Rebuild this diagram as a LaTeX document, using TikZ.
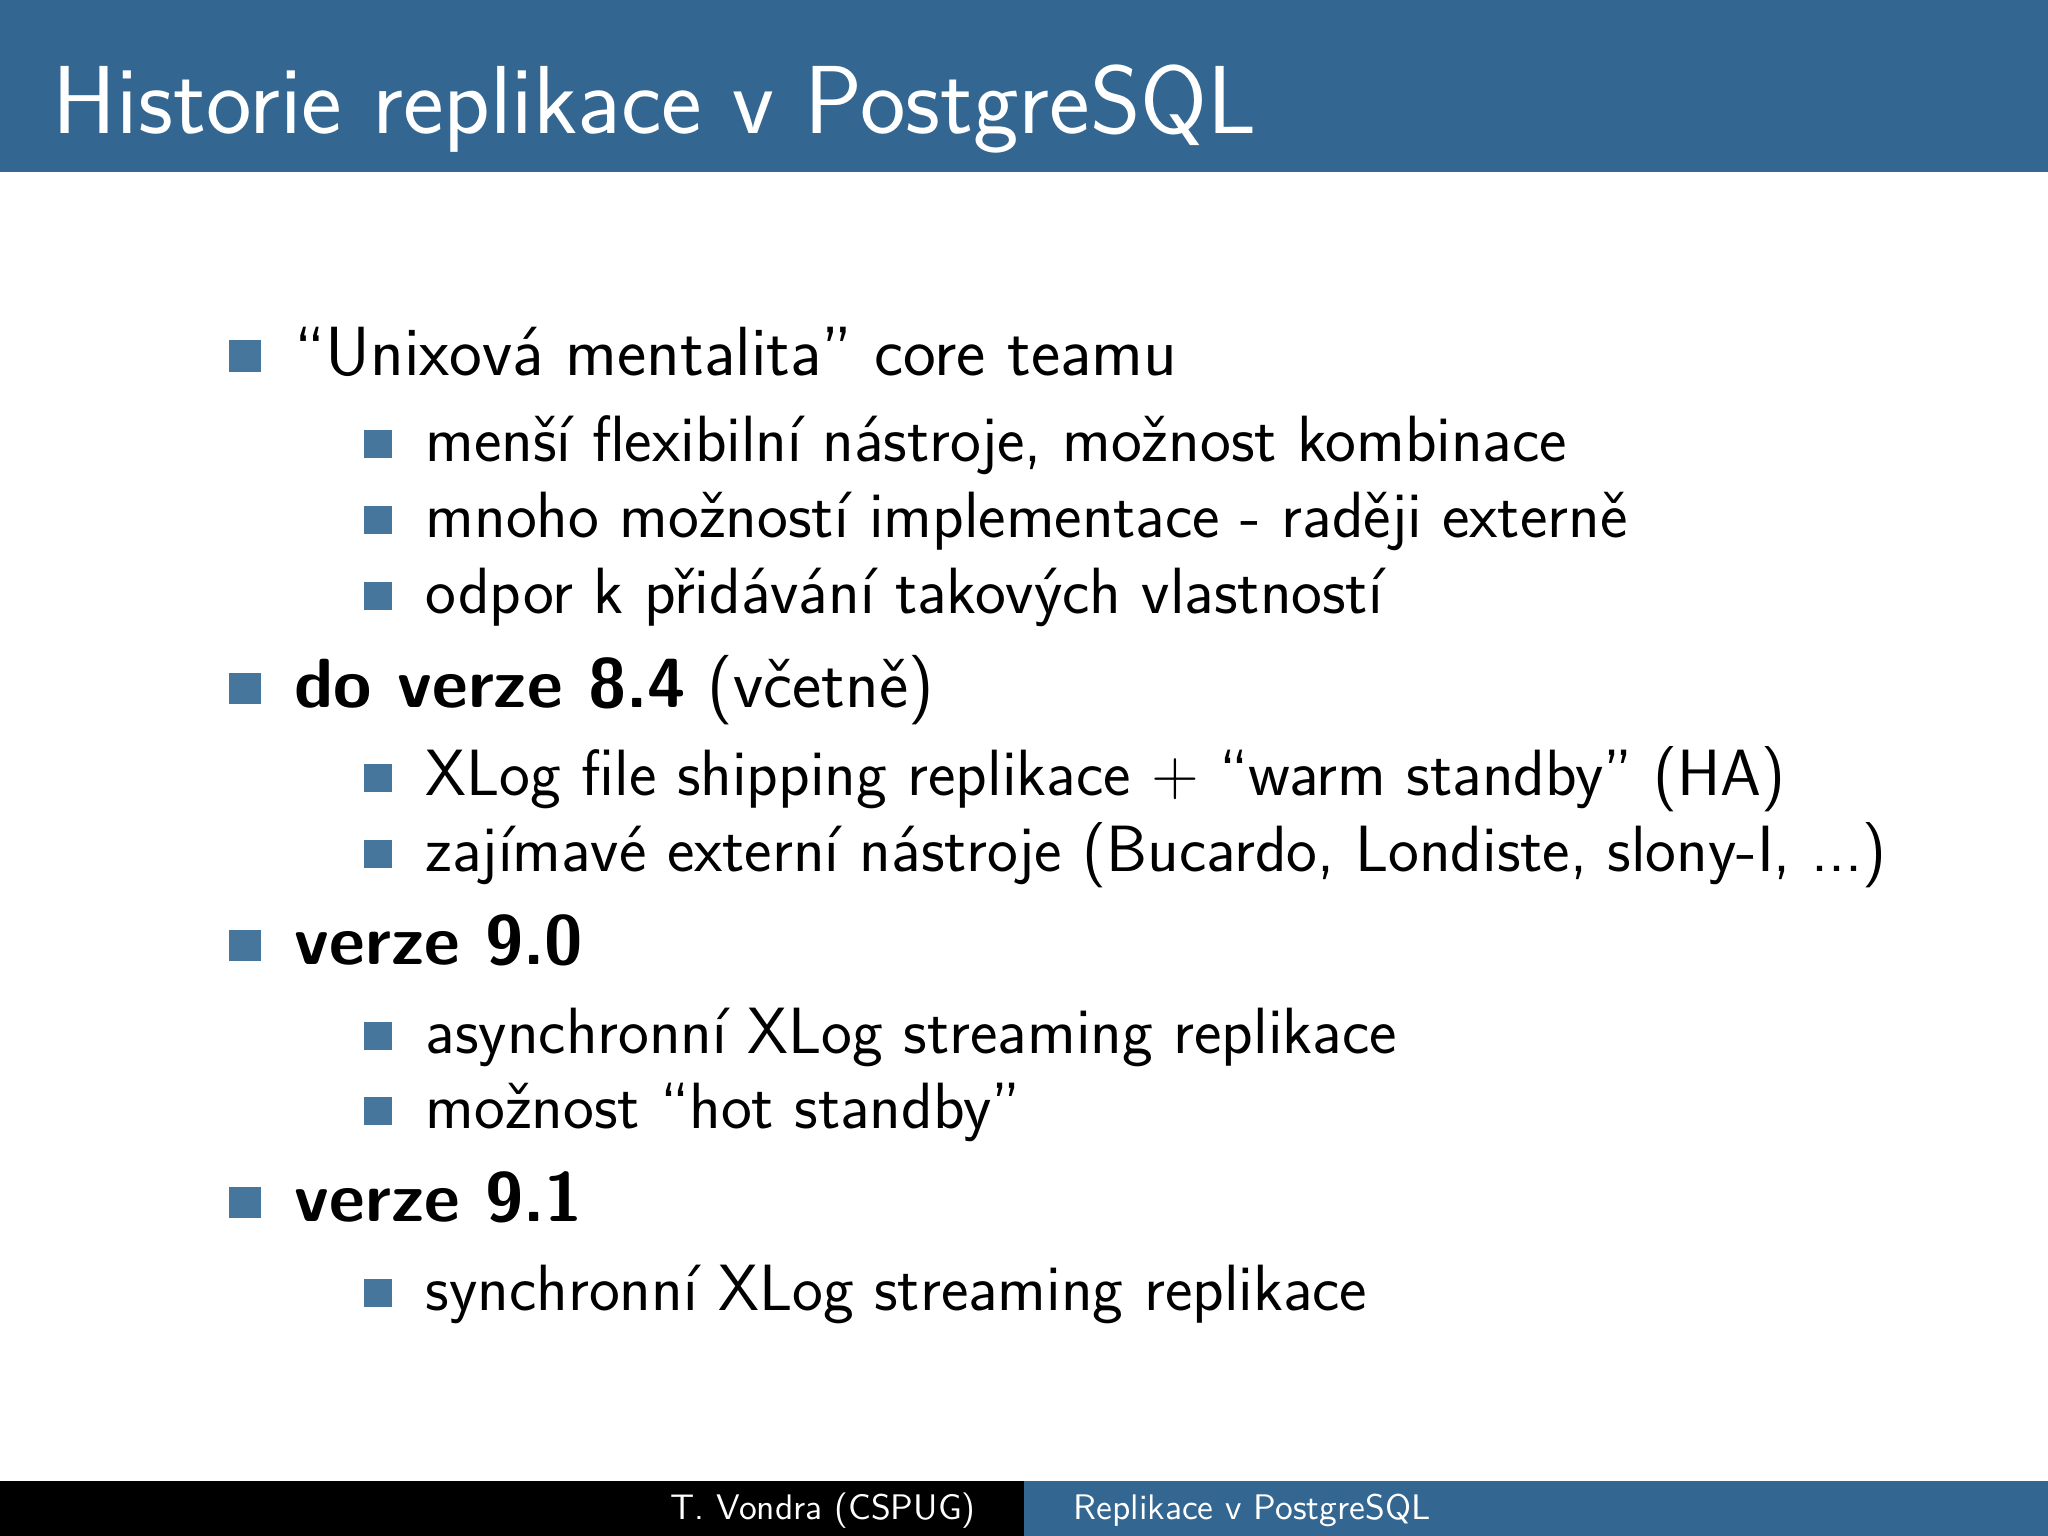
\documentclass[tikz,border=0pt]{standalone}
\renewcommand{\familydefault}{\sfdefault}
\definecolor{pgblue}{RGB}{51,103,145}
\begin{document}
\begin{tikzpicture}[x=0.01cm,y=-0.01cm,
  lone/.style={anchor=base west,inner sep=0,font=\fontsize{19.8}{24}\selectfont},
  ltwo/.style={anchor=base west,inner sep=0,font=\fontsize{18.6}{23}\selectfont},
  bone/.style={fill=pgblue!90,minimum size=0.31cm,inner sep=0},
  btwo/.style={fill=pgblue!90,minimum size=0.28cm,inner sep=0}]
\useasboundingbox (0,0) rectangle (2048,1536);
\fill[pgblue] (0,0) rectangle (2048,172);
\node[anchor=base west,inner sep=0,text=white,font=\fontsize{27.5}{32}\selectfont] (title) at (52,133) {Historie replikace v PostgreSQL};
\foreach \y/\t [count=\i] in {375/{``Unixová mentalita'' core teamu},707/{\textbf{do verze 8.4} (včetně)},964/{\textbf{verze 9.0}},1221/{\textbf{verze 9.1}}}{
  \node[bone] (b\i) at (245,\y-19) {};
  \node[lone] (t\i) at (294,\y) {\t};
}
\foreach \y/\t [count=\i] in {461/{menší flexibilní nástroje, možnost kombinace},537/{mnoho možností implementace - raději externě},613/{odpor k přidávání takových vlastností},795/{XLog file shipping replikace + ``warm standby'' (HA)},871/{zajímavé externí nástroje (Bucardo, Londiste, slony-I, ...)},1053/{asynchronní XLog streaming replikace},1128/{možnost ``hot standby''},1310/{synchronní XLog streaming replikace}}{
  \node[btwo] (c\i) at (378,\y-17) {};
  \node[ltwo] (s\i) at (425,\y) {\t};
}
\fill[black] (0,1481) rectangle (1024,1536);
\fill[pgblue] (1024,1481) rectangle (2048,1536);
\node[anchor=base,inner sep=0,text=white,font=\fontsize{10.1}{12}\selectfont] (fl) at (823,1519) {T. Vondra (CSPUG)};
\node[anchor=base west,inner sep=0,text=white,font=\fontsize{10.1}{12}\selectfont] (fr) at (1073,1519) {Replikace v PostgreSQL};
\end{tikzpicture}
\end{document}
